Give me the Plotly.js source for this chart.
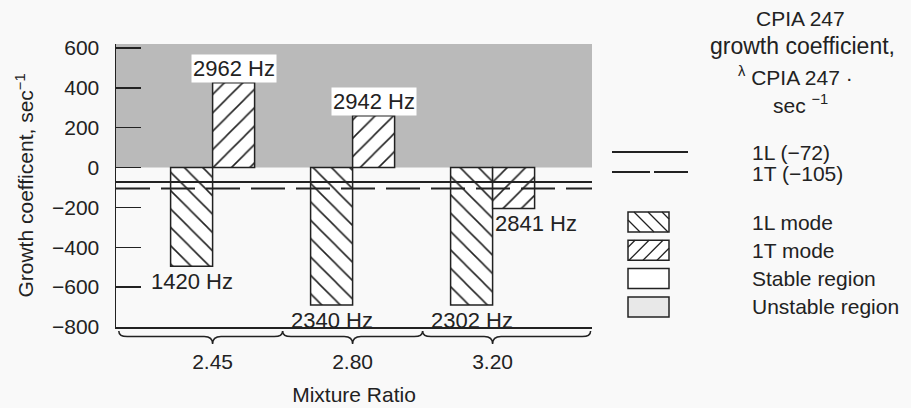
<!DOCTYPE html>
<html><head><meta charset="utf-8">
<script src="https://cdn.plot.ly/plotly-3.0.1.min.js"></script>
<style>html,body{margin:0;padding:0;background:#f9f9f9;}</style>
</head><body><div id="chart" style="width:911px;height:408px;"></div>
<script>
// ---- data ----
const mixtureRatio = ['2.45', '2.80', '3.20'];
const growth1L = [-495, -690, -690];
const growth1T = [425, 260, -205];
const freq1L = ['1420 Hz', '2340 Hz', '2302 Hz'];
const freq1T = ['2962 Hz', '2942 Hz', '2841 Hz'];
const cpiaLevels = [-72, -105];
const cpiaLabels = ['1L (\u221272)', '1T (\u2212105)'];
const yTicks = [-800, -600, -400, -200, 0, 200, 400, 600];
const legendLabels = ['1L mode', '1T mode', 'Stable region', 'Unstable region'];

// ---- layout constants ----
const ink = '#222';
const FONT = 'Liberation Sans, Arial, Helvetica, sans-serif';
const L = 116, R = 592, T = 44, B = 327, W = R - L, H = B - T;
const px = x => (x - L) / W, py = y => 1 - (y - T) / H;
const xRange = [-0.69, 2.71];
const yRange = [-800, 620];
const barW = 0.3;
const xIdx = mixtureRatio.map((_, i) => i);

const pat = shape => ({shape: shape, size: 13, solidity: 0.12, fgcolor: ink, bgcolor: 'white', fillmode: 'replace'});

const traces = [
  {type: 'bar', name: '1L mode', x: xIdx, y: growth1L, width: barW,
   marker: {color: 'white', line: {color: ink, width: 1.5}, pattern: pat('\\')}, hoverinfo: 'skip'},
  {type: 'bar', name: '1T mode', x: xIdx, y: growth1T, width: barW,
   marker: {color: 'white', line: {color: ink, width: 1.5}, pattern: pat('/')}, hoverinfo: 'skip'}
];

const shapes = [];
// unstable region (growth > 0)
shapes.push({type: 'rect', xref: 'paper', yref: 'y', x0: 0, x1: 1, y0: 0, y1: yRange[1],
  fillcolor: '#bababa', line: {width: 0}, layer: 'below'});
// CPIA 247 reference levels
cpiaLevels.forEach((v, i) => shapes.push({type: 'line', xref: 'paper', yref: 'y', x0: 0, x1: 1, y0: v, y1: v,
  line: {color: ink, width: 2, dash: i ? '34px,11px' : 'solid'}}));
// braces under each mixture ratio
const bounds = [xRange[0] + 0.02].concat(mixtureRatio.slice(1).map((_, i) => i + 0.5), [xRange[1] - 0.01]);
const yT = -0.014, yM = -0.034, yP = -0.060, r = 0.06;
mixtureRatio.forEach((_, i) => {
  const a = bounds[i], b = bounds[i + 1], m = i;
  shapes.push({type: 'path', xref: 'x', yref: 'paper', line: {color: ink, width: 1.5},
    path: `M${a},${yT} Q${a},${yM} ${a + r},${yM} L${m - r},${yM} Q${m},${yM} ${m},${yP} Q${m},${yM} ${m + r},${yM} L${b - r},${yM} Q${b},${yM} ${b},${yT}`});
});

// ---- custom key on the right ----
shapes.push({type: 'line', xref: 'paper', yref: 'paper', x0: px(612), x1: px(688), y0: py(152), y1: py(152), line: {color: ink, width: 2}});
shapes.push({type: 'line', xref: 'paper', yref: 'paper', x0: px(612), x1: px(688), y0: py(172), y1: py(172), line: {color: ink, width: 2, dash: '38px,4px'}});

function hatch(x0, y0, x1, y1, dir, step) {
  const segs = [];
  if (dir === '\\') {
    for (let c = y0 - x1 + step / 2; c <= y1 - x0; c += step) {
      const xa = Math.max(x0, y0 - c), xb = Math.min(x1, y1 - c);
      if (xb - xa > 1) segs.push([xa, xa + c, xb, xb + c]);
    }
  } else {
    for (let c = x0 + y0 + step / 2; c <= x1 + y1; c += step) {
      const xa = Math.max(x0, c - y1), xb = Math.min(x1, c - y0);
      if (xb - xa > 1) segs.push([xa, c - xa, xb, c - xb]);
    }
  }
  return segs.map(s => ({type: 'line', xref: 'paper', yref: 'paper', x0: px(s[0]), y0: py(s[1]), x1: px(s[2]), y1: py(s[3]),
    line: {color: ink, width: 1.3}}));
}

const annotations = [];
const keyFont = {family: FONT, size: 21, color: ink};
legendLabels.forEach((lab, k) => {
  const yc = 222 + k * 28.3, bx0 = 628, bx1 = 669, by0 = yc - 10, by1 = yc + 10;
  shapes.push({type: 'rect', xref: 'paper', yref: 'paper', x0: px(bx0), x1: px(bx1), y0: py(by1), y1: py(by0),
    fillcolor: k === 3 ? '#e8e8e8' : 'white', line: {color: ink, width: 1.5}});
  if (k === 0) hatch(bx0, by0, bx1, by1, '\\', 14).forEach(s => shapes.push(s));
  if (k === 1) hatch(bx0, by0, bx1, by1, '/', 14).forEach(s => shapes.push(s));
  annotations.push({xref: 'paper', yref: 'paper', x: px(750), y: py(yc), xanchor: 'left', yanchor: 'middle',
    text: lab, showarrow: false, font: keyFont});
});
cpiaLabels.forEach((lab, k) => annotations.push({xref: 'paper', yref: 'paper', x: px(750), y: py([152, 173][k]),
  xanchor: 'left', yanchor: 'middle', text: lab, showarrow: false, font: keyFont}));
[['CPIA 247', 800, 18, 21], ['growth coefficient,', 802, 46, 23], ['<sup>\u03bb</sup> CPIA 247 \u00b7', 795, 76, 21], ['sec <sup>\u22121</sup>', 800, 104, 21]]
  .forEach(t => annotations.push({xref: 'paper', yref: 'paper', x: px(t[1]), y: py(t[2]), xanchor: 'center', yanchor: 'middle',
    text: t[0], showarrow: false, font: {family: FONT, size: t[3], color: ink}}));

// ---- frequency labels on bars ----
function freqLabel(xc, v, txt, isT) {
  const pos = v >= 0;
  const shiftRight = isT && !pos;
  annotations.push({xref: 'x', yref: 'y', x: shiftRight ? xc - barW / 2 : xc, y: v,
    xanchor: shiftRight ? 'left' : 'center', yanchor: pos ? 'bottom' : 'top', yshift: pos ? 0 : -1,
    text: txt, showarrow: false, bgcolor: pos ? 'white' : 'rgba(0,0,0,0)', borderpad: 1,
    font: {family: FONT, size: 22, color: ink}});
}
xIdx.forEach(i => {
  freqLabel(i - barW / 2, growth1L[i], freq1L[i], false);
  freqLabel(i + barW / 2, growth1T[i], freq1T[i], true);
});

const layout = {
  width: 911, height: 408,
  margin: {l: L, r: 911 - R, t: T, b: 408 - B, pad: 0},
  paper_bgcolor: '#f9f9f9', plot_bgcolor: '#f9f9f9',
  showlegend: false, barmode: 'group', bargap: 0.4, bargroupgap: 0,
  font: {family: FONT, color: ink},
  xaxis: {type: 'linear', range: xRange, tickvals: xIdx, ticktext: mixtureRatio, ticks: '',
    showline: true, linecolor: ink, linewidth: 1.5, showgrid: false, zeroline: false,
    ticklabelstandoff: 15, tickfont: {family: FONT, size: 21, color: ink},
    title: {text: 'Mixture Ratio', font: {family: FONT, size: 21, color: ink}, standoff: 15}},
  yaxis: {range: yRange, tickvals: yTicks, ticks: 'inside', ticklen: 25, tickwidth: 1.5, tickcolor: ink,
    showline: true, linecolor: ink, linewidth: 1.5, showgrid: false, zeroline: false,
    ticklabelstandoff: 11, tickfont: {family: FONT, size: 21, color: ink},
    title: {text: 'Growth coefficent, sec<sup>\u22121</sup>', font: {family: FONT, size: 21, color: ink}, standoff: 12}},
  shapes: shapes, annotations: annotations
};

Plotly.newPlot('chart', traces, layout, {displayModeBar: false, staticPlot: true});
</script></body></html>
